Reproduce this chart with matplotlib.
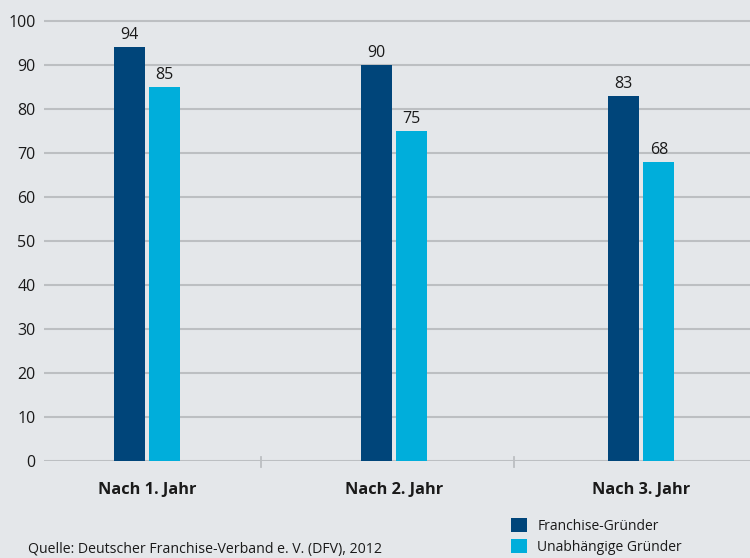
import matplotlib
matplotlib.use("Agg")
import matplotlib.pyplot as plt
import numpy as np

categories = ["Nach 1. Jahr", "Nach 2. Jahr", "Nach 3. Jahr"]
series_names = ["Franchise-Gründer", "Unabhängige Gründer"]
franchise = [94, 90, 83]
unabhaengig = [85, 75, 68]
yticks = [0, 10, 20, 30, 40, 50, 60, 70, 80, 90, 100]
source = "Quelle: Deutscher Franchise-Verband e. V. (DFV), 2012"

bg = "#E4E7EA"
dark = "#00457A"
light = "#00AEDB"
grid = "#BCBFC2"

plt.rcParams['font.family'] = ['Open Sans', 'DejaVu Sans']

fig = plt.figure(figsize=(7.5, 5.58), dpi=100, facecolor=bg)
ax = fig.add_axes([44/750, 1-461/558, 1-44/750, (461-12.2)/558])
ax.set_facecolor(bg)

x = np.arange(len(categories))
w = 0.125
off = 0.071
b1 = ax.bar(x - off, franchise, w, color=dark, label=series_names[0], zorder=3)
b2 = ax.bar(x + off, unabhaengig, w, color=light, label=series_names[1], zorder=3)
for bars, vals in ((b1, franchise), (b2, unabhaengig)):
    for r, v in zip(bars, vals):
        ax.annotate(str(v), (r.get_x() + r.get_width()/2, v), xytext=(0, 3),
                    textcoords="offset points", ha="center", va="bottom",
                    fontsize=11.5, color="#1a1a1a")

ax.set_ylim(0, 102)
ax.set_xlim(-0.417, 2.44)
ax.set_yticks(yticks)
ax.set_yticklabels([str(t) for t in yticks], fontsize=11.5, color="#1a1a1a")
ax.yaxis.grid(True, color=grid, linewidth=1.5, zorder=0)
ax.set_axisbelow(True)
ax.tick_params(axis="y", length=0, pad=6)
ax.set_xticks(x)
ax.set_xticklabels(categories, fontsize=11.8, fontweight="bold", color="#1a1a1a")
ax.tick_params(axis="x", length=0, pad=15)
# separator ticks on the baseline
for sx in (0.46, 1.484):
    ax.plot([sx, sx], [-1.4, 1.0], color=grid, linewidth=1.3, clip_on=False, zorder=2)
for s in ax.spines.values():
    s.set_visible(False)

fig.text(28/750, 1-549/558, source, fontsize=10.2, color="#1a1a1a", va="center", ha="left")
fig.legend(handles=[b1, b2], loc="upper left", bbox_to_anchor=(511/750, 1-518/558),
           frameon=False, fontsize=10, handlelength=1.15, handleheight=1.15,
           handletextpad=0.75, labelspacing=0.4, borderpad=0, borderaxespad=0,
           labelcolor="#1a1a1a")

fig.savefig("out.png", dpi=100, facecolor=bg)
